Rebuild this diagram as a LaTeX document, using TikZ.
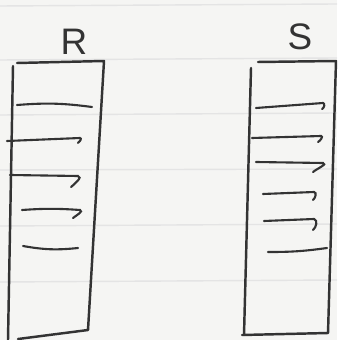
\documentclass[tikz,border=0pt]{standalone}
\usepackage{fontspec}
\setmainfont{Liberation Sans}
\definecolor{paper}{HTML}{F5F5F3}
\definecolor{rule}{HTML}{E4E4E4}
\definecolor{ink}{HTML}{333333}
\begin{document}
\begin{tikzpicture}[x=0.02cm, y=-0.02cm,
        pen/.style={draw=ink, line width=1.4pt, line cap=round, line join=round},
        stroke/.style={draw=ink, line width=1.2pt, line cap=round},
        label/.style={text=ink, font=\fontsize{21}{23}\selectfont}
    ]
    % paper
    \fill[paper] (0,0) rectangle (337,340);
    \useasboundingbox (0,0) rectangle (337,340);
    \draw[rule, line width=0.8pt] (0,6) -- (337,4);
    \draw[rule, line width=0.8pt] (0,60) -- (337,58);
    \draw[rule, line width=0.8pt] (0,115) -- (337,113);
    \draw[rule, line width=0.8pt] (0,170) -- (337,169);
    \draw[rule, line width=0.8pt] (0,226) -- (337,224);
    \draw[rule, line width=0.8pt] (0,282) -- (337,280);

    % relation R
    \node[label] (R) at (74,42) {R};
    \draw[pen] (13,66) -- (8,340);
    \draw[pen] (17,63) -- (104,61) -- (88,330) -- (18,339);
    \draw[stroke] (17,105) to[bend left=6] (92,107);
    \draw[stroke] (7,141) -- (80,138) to[out=-10,in=30] (78,143);
    \draw[stroke] (10,175) -- (78,176) to[out=-10,in=40] (71,187);
    \draw[stroke] (22,210) to[bend left=4] (80,210) to[out=-20,in=40] (73,218);
    \draw[stroke] (23,246) to[bend right=8] (78,248);

    % relation S
    \node[label] (S) at (300,37) {S};
    \draw[pen] (251,68) -- (244,335);
    \draw[pen] (258,62) -- (336,61) -- (328,333) -- (242,335);
    \draw[stroke] (256,108) -- (323,103) to[out=-10,in=20] (322,109);
    \draw[stroke] (252,138) -- (321,136) to[out=-10,in=30] (318,142);
    \draw[stroke] (256,162) -- (323,163) to[out=-10,in=40] (313,172);
    \draw[stroke] (263,194) -- (314,192) to[out=-10,in=40] (313,200);
    \draw[stroke] (264,221) -- (314,219) to[out=-20,in=40] (313,230);
    \draw[stroke] (268,252) to[bend right=4] (327,248);
\end{tikzpicture}
\end{document}
